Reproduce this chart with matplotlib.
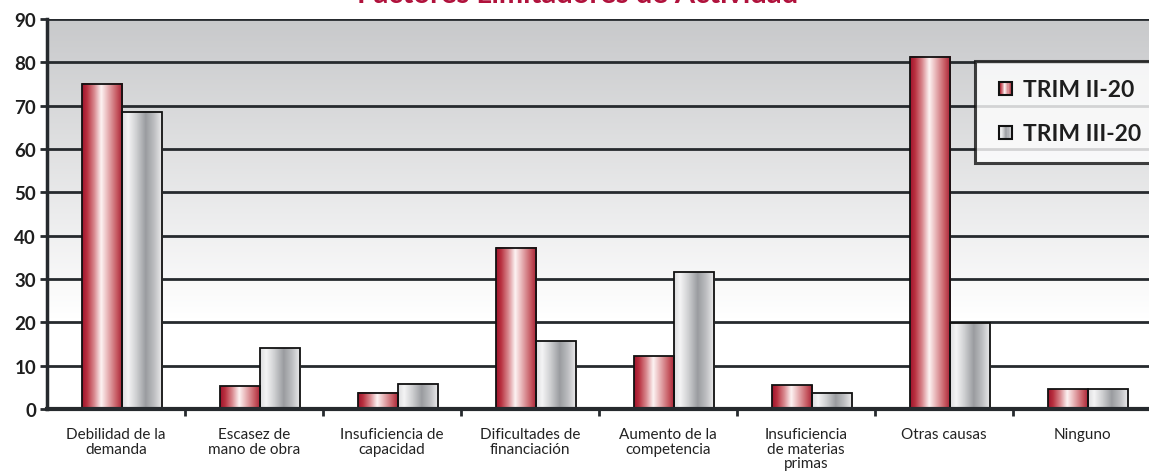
import numpy as np
import matplotlib
matplotlib.use('Agg')
import matplotlib.pyplot as plt
from matplotlib.colors import LinearSegmentedColormap
from matplotlib.patches import Rectangle
from matplotlib.legend_handler import HandlerBase

categories = ['Debilidad de la\ndemanda', 'Escasez de\nmano de obra',
              'Insuficiencia de\ncapacidad', 'Dificultades de\nfinanciación',
              'Aumento de la\ncompetencia', 'Insuficiencia\nde materias\nprimas',
              'Otras causas', 'Ninguno']
trim_ii = [75.0, 5.2, 3.7, 37.2, 12.2, 5.5, 81.3, 4.6]
trim_iii = [68.6, 14.0, 5.8, 15.6, 31.5, 3.7, 19.8, 4.6]
series_names = ['TRIM II-20', 'TRIM III-20']
yticks = [0, 10, 20, 30, 40, 50, 60, 70, 80, 90]

plt.rcParams['font.family'] = ['Lato', 'DejaVu Sans']

red_cmap = LinearSegmentedColormap.from_list('red', [
    (0.0, '#a0132c'), (0.12, '#b8303f'), (0.3, '#d98a90'),
    (0.47, '#fdf3f3'), (0.6, '#ecc0c2'), (0.85, '#c65a62'), (1.0, '#a51c31')])
gray_cmap = LinearSegmentedColormap.from_list('gray', [
    (0.0, '#dcdcde'), (0.15, '#f4f4f5'), (0.35, '#cfd0d2'),
    (0.58, '#9a9ca0'), (0.78, '#bcbdc0'), (1.0, '#f0f0f1')])
grad = np.linspace(0, 1, 256).reshape(1, -1)

fig = plt.figure(figsize=(11.49, 4.77), dpi=100)
ax = fig.add_axes([0.041, 0.1405, 0.961, 0.818])

# background: grey at top fading to white
bg = np.clip(np.linspace(1, -0.3, 256), 0, 1).reshape(-1, 1)
bg_cmap = LinearSegmentedColormap.from_list('bg', ['#ffffff', '#c8c9cb'])
ax.imshow(bg, cmap=bg_cmap, aspect='auto', extent=[0, 1, 0, 1],
          transform=ax.transAxes, zorder=0, origin='upper')

x = np.arange(len(categories))
w = 0.29
shift = 0.04
for vals, off, cm in [(trim_ii, -w / 2, red_cmap), (trim_iii, w / 2, gray_cmap)]:
    bars = ax.bar(x + off + shift, vals, w, facecolor='none', edgecolor='#111111',
                  linewidth=1.3, zorder=4)
    for b in bars:
        ax.imshow(grad, cmap=cm, aspect='auto', zorder=3,
                  extent=[b.get_x(), b.get_x() + b.get_width(), 0, b.get_height()])

ax.set_xlim(-0.5, len(categories) - 0.5)
ax.set_ylim(0, 90)
ax.set_yticks(yticks)
ax.set_yticklabels([str(t) for t in yticks], fontsize=13.5, fontweight='bold',
                   color='#1e1e1e')
for t in yticks[1:]:
    ax.axhline(t, color='#262a2e', lw=2, zorder=2)

ax.set_xticks(x)
ax.set_xticklabels(categories, fontsize=11, color='#222222', linespacing=1.05)
ax.tick_params(axis='x', length=0, pad=13)
ax.set_xticks(np.arange(len(categories) - 1) + 0.5, minor=True)
ax.tick_params(axis='x', which='minor', length=5, width=2, color='#262a2e')
ax.tick_params(axis='y', length=5, width=2, color='#262a2e', pad=3)

for s in ['top', 'right']:
    ax.spines[s].set_visible(False)
ax.spines['left'].set_linewidth(2.5)
ax.spines['bottom'].set_linewidth(3)
ax.spines['left'].set_color('#262a2e')
ax.spines['bottom'].set_color('#262a2e')
ax.spines['bottom'].set_zorder(5)


class GradHandler(HandlerBase):
    def __init__(self, cmap):
        super().__init__()
        self.cmap = cmap

    def create_artists(self, legend, orig_handle, xdescent, ydescent,
                       width, height, fontsize, trans):
        side = height * 0.8
        x0 = width - side
        y0 = -ydescent + (height - side) / 2
        arts = []
        n = 12
        for i in range(n):
            arts.append(Rectangle((x0 + side * i / n, y0), side / n + 0.2, side,
                                  facecolor=self.cmap((i + 0.5) / n),
                                  edgecolor='none', transform=trans))
        arts.append(Rectangle((x0, y0), side, side, facecolor='none',
                              edgecolor='#111111', lw=1.5, transform=trans))
        return arts


h1 = Rectangle((0, 0), 1, 1)
h2 = Rectangle((0, 0), 1, 1)
leg = ax.legend([h1, h2], series_names, loc='upper left',
                bbox_to_anchor=(0.8404, 0.892), frameon=True, fancybox=False,
                prop={'size': 16.5, 'weight': 'bold'}, handlelength=0.8,
                handletextpad=0.5, labelspacing=1.0, borderpad=0.8,
                borderaxespad=0,
                handler_map={h1: GradHandler(red_cmap), h2: GradHandler(gray_cmap)})
leg.get_frame().set_edgecolor('#111111')
leg.get_frame().set_linewidth(2.2)
leg.set_zorder(6)
for t in leg.get_texts():
    t.set_color('#1e1e1e')

fig.text(0.503, 0.993, 'Factores Limitadores de Actividad', color='#b0123c',
         fontsize=21, fontweight='bold', ha='center', va='baseline')

fig.savefig('out.png', dpi=100)
